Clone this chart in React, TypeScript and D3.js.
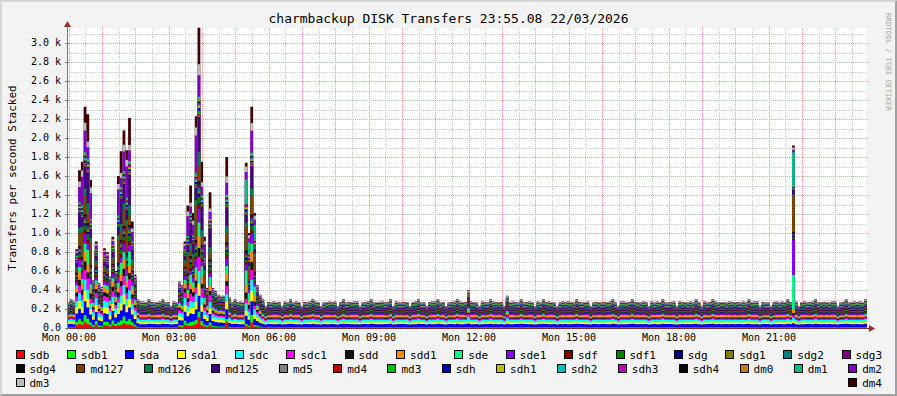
import React from "react";
import * as d3 from "d3";

// ---------- DATA ----------
const seriesNames = ["sdb","sdb1","sda","sda1","sdc","sdc1","sdd","sdd1","sde","sde1","sdf","sdf1","sdg","sdg1","sdg2","sdg3","sdg4","md127","md126","md125","md5","md4","md3","sdh","sdh1","sdh2","sdh3","sdh4","dm0","dm1","dm2","dm3","dm4"];
const seriesColors = ["#FF0000","#00FF00","#0000FF","#FFFF00","#00FFFF","#FF00FF","#111111","#FF8C00","#00FF80","#8C00FF","#800000","#008000","#000080","#808000","#008080","#800080","#0A0A0A","#804000","#008050","#400080","#808080","#C00000","#00C000","#0000C0","#C0C000","#00C0C0","#C000C0","#0A0A0A","#C08000","#00C080","#8000C0","#BBBBBB","#400000"];

// quiet-period per-series levels (transfers/s), observed variants
const quietProfiles = [
  [4,4,34,18,24,14,12,14,9,9,7,7,7,4,5,7,5,9,5,13,3,3,3,5,3,3,5,3,4,5,9,7,4],
  [4,5,30,22,22,17,10,16,12,8,6,8,6,5,4,8,6,12,4,10,3,3,2,6,3,3,4,4,4,6,12,9,5],
  [3,4,36,16,26,12,14,12,8,11,8,6,8,3,6,6,4,8,6,15,4,2,4,4,4,2,6,3,5,4,8,6,6],
  [5,3,32,20,24,15,12,15,10,9,7,7,7,4,5,9,5,10,5,14,2,3,3,5,2,4,5,2,3,5,10,8,3],
  [4,5,36,20,26,16,12,16,11,10,8,8,7,5,5,8,6,12,6,15,3,3,3,6,3,3,5,3,4,6,12,10,6],
  [3,3,31,16,22,13,11,13,8,8,6,6,6,3,4,6,4,8,4,12,2,2,2,4,2,3,4,2,3,4,8,6,3],
];
// which quiet variant each 5-minute column shows (288 columns)
const quietPattern =
  "0412530152034251" + "2504132045113420" + "3140251032542130" + "1352240531204213" +
  "0251134520132510" + "4013520141350312" + "1524023115021403" + "3102451002353140" +
  "0521140350214132" + "2130512041232503" + "1204021351042130" + "5012130420315023" +
  "0231405113242301" + "2510134002151230" + "1043510241033012" + "3201043115200521" +
  "0134201531021403" + "2301150240312134";

// busy columns: column index, stacked total (transfers/s), composition profile
const spikeCols = [3,4,5,6,7,8,9,10,11,12,13,14,15,16,17,18,19,20,21,22,23,24,25,
  40,41,42,43,44,45,46,47,48,49,50,51,52,53,54,55,56,57,58,
  64,65,66,67,68,69, 144,158, 261];
const spikeTotals = [830,1660,1750,2330,2250,1560,500,910,470,430,840,800,540,960,600,1600,1860,2080,1870,2210,1120,560,300,
  490,450,910,1290,1500,1210,2230,3160,1750,960,420,1430,420,390,350,340,340,1800,320,
  1740,1000,2330,1210,450,350, 400,340, 1920];
const spikeProfile = [4,0,6,0,7,6,4,4,4,4,4,4,4,4,4,6,7,0,6,7,0,4,4,
  4,4,4,6,7,0,6,1,7,6,4,7,4,4,4,4,4,1,4,
  2,2,0,2,4,4, 5,5, 3];
// relative share of the extra load per series
const spikeProfiles = [
  [3,4,6,5,5,5,4,5,4,5,2,2,1,1,1,1,1,10,4,12,0.5,0.5,0.5,1,0.5,0.5,0.5,0.5,0.5,1,12,4,9],
  [4,2,5,4,4,5,3,4,5,5,2,2,1,1,1,1,1,6,5,13,0.5,0.5,1,1,0.5,0.5,0.5,0.5,0.5,1,8,4,14],
  [1,1,3,2,3,2,3,4,8,3,1,1,1,0.5,0.5,1,1,14,2,4,0.5,0.5,0.5,1,0.5,0.5,0.5,0.5,0.5,14,4,3,2],
  [0,0,0.5,0.5,0.5,0.5,1,1,22,22,0.5,0.5,0.5,0,0,0.5,0.5,23,0.5,2,0,0,0,0,0,0,0,0,0,22,1,1,1],
  [5,6,10,9,8,7,5,6,5,5,2,2,1,1,1,2,1,6,3,6,0.5,0.5,0.5,1,0.5,0.5,0.5,0.5,0.5,1,5,2,3],
  [0,0,2,2,8,6,1,2,8,2,1,1,1,0,0,1,1,2,1,2,0,0,0,0,0,0,0,0,0,1,2,4,1],
  [2,2,4,3,3,3,3,3,3,4,1,2,1,1,1,1,1,18,3,6,0.5,0.5,0.5,1,0.5,0.5,0.5,0.5,0.5,1,20,4,6],
  [2,3,5,4,4,6,3,4,8,3,2,3,1,1,1,1,1,5,6,18,0.5,0.5,0.5,1,0.5,0.5,0.5,0.5,0.5,1,6,3,16],
];

const timeLabelHours = [0,3,6,9,12,15,18,21];
const timeLabels = ["Mon 00:00","Mon 03:00","Mon 06:00","Mon 09:00","Mon 12:00","Mon 15:00","Mon 18:00","Mon 21:00"];
const yTickValues = [0,200,400,600,800,1000,1200,1400,1600,1800,2000,2200,2400,2600,2800,3000];
const yTickLabels = ["0.0","0.2 k","0.4 k","0.6 k","0.8 k","1.0 k","1.2 k","1.4 k","1.6 k","1.8 k","2.0 k","2.2 k","2.4 k","2.6 k","2.8 k","3.0 k"];
const legendRows = [
  [0,1,2,3,4,5,6,7,8,9,10,11,12,13,14,15],
  [16,17,18,19,20,21,22,23,24,25,26,27,28,29,30],
  [31,32],
];
const titleText = "charmbackup DISK Transfers 23:55.08 22/03/2026";
const yAxisTitle = "Transfers per second Stacked";
const watermark = "RRDTOOL / TOBI OETIKER";

// ---------- LAYOUT ----------
const W = 897, H = 396;
const X0 = 67, X1 = 867, YT = 28, YB = 328;
const STEP = 5; // minutes per column
const START = -2.7; // minutes relative to 00:00
const SPAN = 1440;
const YMAX = 3158;
const MONO = "'DejaVu Sans Mono', monospace";

function buildValues(): number[][] {
  const n = quietPattern.length;
  const out: number[][] = [];
  for (let i = 0; i < n; i++) {
    const q = quietProfiles[quietPattern.charCodeAt(i) - 48];
    const k = spikeCols.indexOf(i);
    if (k < 0) { out.push(q.slice()); continue; }
    const share = spikeProfiles[spikeProfile[k]];
    const ss = d3.sum(share);
    const extra = Math.max(0, spikeTotals[k] - d3.sum(q));
    out.push(q.map((v, s) => v + (extra * share[s]) / ss));
  }
  return out;
}

export default function App() {
  const values = buildValues();
  const N = values.length;
  const S = seriesNames.length;
  const x = d3.scaleLinear().domain([START, START + SPAN]).range([X0, X1]);
  const y = d3.scaleLinear().domain([0, YMAX]).range([YB, YT]);

  const stacked = d3.stack<number[], number>().keys(d3.range(S)).value((d, k) => d[k])(values);

  type P = { i: number; top: number };
  const area = d3.area<P>()
    .x((d) => x(START + d.i * STEP))
    .y0(() => y(0))
    .y1((d) => y(d.top))
    .curve(d3.curveStepAfter);

  const layerPaths = stacked.map((ser, s) => {
    const pts: P[] = ser.map((p, i) => ({ i, top: p[1] }));
    pts.push({ i: N, top: ser[N - 1][1] });
    return { s, d: area(pts) || "" };
  });

  // grid
  const vMinor: number[] = [];
  const vMajor: number[] = [];
  for (let t = 0; t <= START + SPAN; t += 30) (t % 60 === 0 ? vMajor : vMinor).push(t);
  const hMinor: number[] = [];
  const hMajor: number[] = [];
  for (let v = 100; v <= YMAX; v += 100) (v % 200 === 0 ? hMajor : hMinor).push(v);

  // legend layout (justified rows)
  const charW = 6.62;
  const left = 15.5, right = 882;
  const legendItems: { s: number; x: number; row: number }[] = [];
  legendRows.forEach((row, r) => {
    const widths = row.map((s) => 14 + seriesNames[s].length * charW);
    const gap = row.length > 1 ? (right - left - d3.sum(widths)) / (row.length - 1) : 0;
    let cx = left;
    row.forEach((s, j) => {
      legendItems.push({ s, x: cx, row: r });
      cx += widths[j] + gap;
    });
  });

  return (
    <svg width={W} height={H} style={{ position: "fixed", left: 0, top: 0 }} xmlns="http://www.w3.org/2000/svg">
      <rect x={0} y={0} width={W} height={H} fill="#F3F3F3" />
      {/* frame shading */}
      <polygon points={`0,0 ${W},0 ${W - 2},2 2,2 2,${H - 2} 0,${H}`} fill="#D6D6D6" />
      <polygon points={`${W},0 ${W},${H} 0,${H} 2,${H - 2} ${W - 2},${H - 2} ${W - 2},2`} fill="#A2A2A2" />

      {/* canvas */}
      <rect x={X0} y={YT} width={X1 - X0} height={YB - YT} fill="#FFFFFF" />

      {/* grid */}
      <g strokeWidth={1} shapeRendering="crispEdges">
        {hMinor.map((v) => (
          <line key={"hm" + v} x1={X0} x2={X1} y1={Math.round(y(v)) + 0.5} y2={Math.round(y(v)) + 0.5} stroke="#C8C8C8" strokeDasharray="1,1" />
        ))}
        {vMinor.map((t) => (
          <line key={"vm" + t} x1={Math.round(x(t)) + 0.5} x2={Math.round(x(t)) + 0.5} y1={YT} y2={YB} stroke="#C8C8C8" strokeDasharray="1,1" />
        ))}
        {hMajor.map((v) => (
          <line key={"hM" + v} x1={X0} x2={X1 + 2} y1={Math.round(y(v)) + 0.5} y2={Math.round(y(v)) + 0.5} stroke="#F29A9A" strokeDasharray="1,1" />
        ))}
        {vMajor.map((t) => (
          <line key={"vM" + t} x1={Math.round(x(t)) + 0.5} x2={Math.round(x(t)) + 0.5} y1={YT} y2={YB + 2} stroke="#F29A9A" strokeDasharray="1,1" />
        ))}
      </g>

      {/* stacked layers, drawn top series first so lower ones overlay */}
      <g>
        {layerPaths.slice().reverse().map((l) => (
          <path key={l.s} d={l.d} fill={seriesColors[l.s]} />
        ))}
      </g>

      {/* axes */}
      <g shapeRendering="crispEdges">
        <line x1={X0 + 0.5} x2={X0 + 0.5} y1={YB + 2} y2={23} stroke="#7A7A7A" />
        <line x1={X0 - 2} x2={X1 + 3} y1={YB + 0.5} y2={YB + 0.5} stroke="#7A2A2A" />
        {yTickValues.map((v) => (
          <line key={"yt" + v} x1={X0 - 2} x2={X0 + 2} y1={Math.round(y(v)) + 0.5} y2={Math.round(y(v)) + 0.5} stroke="#7A7A7A" />
        ))}
      </g>
      <polygon points={`${X0 + 0.5},21 ${X0 - 3},27 ${X0 + 4},27`} fill="#9B2B2B" />
      <polygon points={`875,${YB + 0.5} 869,${YB - 3} 869,${YB + 4}`} fill="#9B2B2B" />

      {/* tick labels */}
      <g fontFamily={MONO} fontSize={10} fill="#000">
        {yTickValues.map((v, k) => (
          <text key={"yl" + v} x={61} y={y(v) + 3} textAnchor="end">{yTickLabels[k]}</text>
        ))}
        {timeLabelHours.map((h, k) => (
          <text key={"xl" + h} x={x(h * 60) + 0.5} y={YB + 13} textAnchor="middle">{timeLabels[k]}</text>
        ))}
      </g>

      {/* title */}
      <text x={448.5} y={23} textAnchor="middle" fontFamily={MONO} fontSize={13} fill="#000">{titleText}</text>
      {/* y axis title */}
      <text transform={`translate(15.5,${(YT + YB) / 2}) rotate(-90)`} textAnchor="middle" fontFamily={MONO} fontSize={11} fill="#000">{yAxisTitle}</text>
      {/* watermark */}
      <text transform={`translate(885.5,13) rotate(90)`} fontFamily={MONO} fontSize={7.4} fill="#ABABAB">{watermark}</text>

      {/* legend */}
      <g fontFamily={MONO} fontSize={11} fill="#000">
        {legendItems.map((it) => {
          const by = 350 + it.row * 14;
          return (
            <g key={"lg" + it.s}>
              <rect x={Math.round(it.x) + 0.5} y={by + 0.5} width={8} height={8} fill={seriesColors[it.s]} stroke="#000" strokeWidth={1} shapeRendering="crispEdges" />
              <text x={it.x + 14} y={by + 8.5}>{seriesNames[it.s]}</text>
            </g>
          );
        })}
      </g>
    </svg>
  );
}
